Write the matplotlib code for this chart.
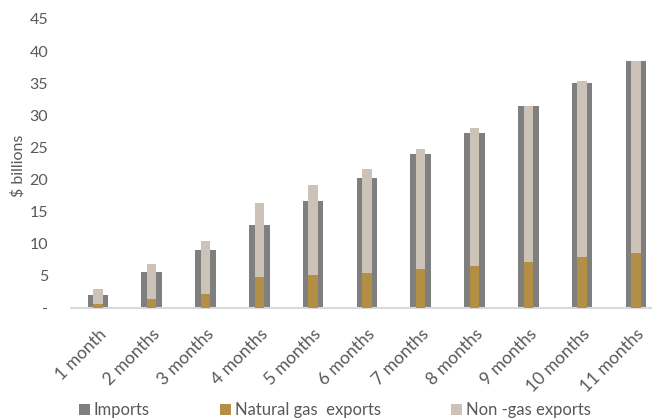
import matplotlib.pyplot as plt
import matplotlib.transforms as mtransforms
import numpy as np

plt.rcParams['font.family'] = ['Lato', 'DejaVu Sans']

# cumulative values, $ billions
periods = ['1 month', '2 months', '3 months', '4 months', '5 months', '6 months',
           '7 months', '8 months', '9 months', '10 months', '11 months']
imports = [2.0, 5.55, 9.05, 12.9, 16.7, 20.3, 24.0, 27.3, 31.5, 35.0, 38.4]
gas_exports = [0.7, 1.4, 2.2, 4.9, 5.2, 5.45, 6.0, 6.5, 7.1, 8.0, 8.55]
total_exports = [3.0, 6.9, 10.5, 16.3, 19.1, 21.7, 24.7, 28.1, 31.5, 35.3, 38.5]
nongas_exports = [t - g for t, g in zip(total_exports, gas_exports)]
yticks = [0, 5, 10, 15, 20, 25, 30, 35, 40, 45]
ytick_labels = ['-'] + [str(v) for v in yticks[1:]]

c_imp = '#7f7f7f'
c_gas = '#b38f45'
c_non = '#cdc2b8'
txt = '#595959'

fig = plt.figure(figsize=(6.52, 4.19), dpi=100)
ax = fig.add_axes([71 / 652, 111 / 419, 581 / 652, 289 / 419])

x = np.arange(len(periods))
ax.bar(x, imports, width=0.385, color=c_imp, label='Imports', zorder=2)
ax.bar(x, gas_exports, width=0.175, color=c_gas, label='Natural gas  exports', zorder=3)
ax.bar(x, nongas_exports, width=0.175, bottom=gas_exports, color=c_non,
       label='Non -gas exports', zorder=3)

ax.set_xlim(-0.5, -0.5 + 581 / 53.8)
ax.set_ylim(0, 45)
ax.set_yticks(yticks)
ax.set_yticklabels(ytick_labels, fontsize=11.5)
ax.set_xticks(x)
ax.set_xticklabels(periods, rotation=45, ha='right', va='top',
                   rotation_mode='anchor', fontsize=12.5)
shift = mtransforms.ScaledTranslation(4 / 100, 0, fig.dpi_scale_trans)
for lbl in ax.get_xticklabels():
    lbl.set_transform(lbl.get_transform() + shift)
ax.tick_params(axis='both', length=0, labelcolor=txt)
ax.tick_params(axis='y', pad=16.5)
ax.tick_params(axis='x', pad=13)
for s in ['top', 'right', 'left']:
    ax.spines[s].set_visible(False)
ax.spines['bottom'].set_color('#d9d9d9')
ax.spines['bottom'].set_linewidth(1.5)
ax.set_ylabel('$ billions', color=txt, fontsize=11.5)
ax.yaxis.set_label_coords(26 / 652, 253 / 419, transform=fig.transFigure)

fig.legend(loc='center left', bbox_to_anchor=(79 / 652, 9 / 419), ncol=3, frameon=False,
           fontsize=12, handlelength=0.66, handleheight=0.66, handletextpad=0.2,
           columnspacing=4.25, borderpad=0, borderaxespad=0, labelcolor=txt)

fig.savefig('out.png', dpi=100)
